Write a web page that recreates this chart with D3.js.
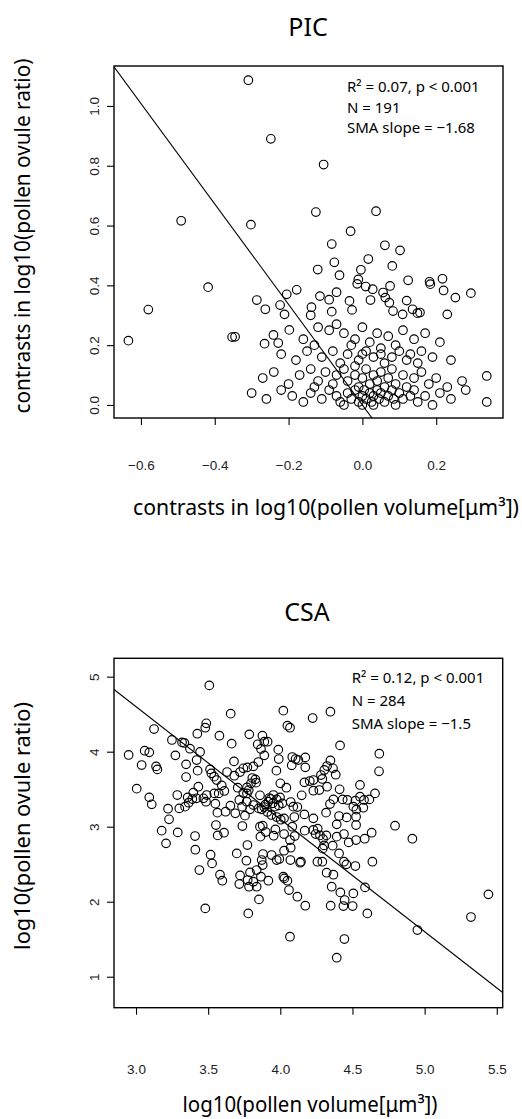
<!DOCTYPE html>
<html>
<head>
<meta charset="utf-8">
<script src="https://cdn.jsdelivr.net/npm/d3@7/dist/d3.min.js"></script>
<style>
  body { margin: 0; background: #fff; }
</style>
</head>
<body>
<svg id="chart"></svg>
<script>
// ---- PIC panel (phylogenetically independent contrasts) ----
const picX = [-0.309,-0.248,-0.105,-0.491,-0.302,-0.126,0.037,-0.032,-0.083,0.061,0.102,0.016,-0.076,-0.121,0.081,-0.004,-0.062,-0.011,-0.014,0.009,0.124,0.182,0.184,0.217,0.075,-0.418,0.028,-0.070,0.220,0.056,0.294,-0.178,-0.205,-0.115,-0.090,0.252,0.062,-0.035,0.022,0.120,-0.286,-0.580,-0.263,-0.223,0.073,-0.083,-0.028,-0.138,0.136,0.083,0.109,0.156,0.149,0.230,-0.211,-0.140,-0.198,-0.634,-0.353,-0.345,-0.241,-0.265,-0.228,
  -0.12,-0.09,-0.07,-0.05,-0.02,0.00,0.02,0.04,0.07,0.09,0.11,0.14,0.17,0.21,-0.16,-0.13,0.05,-0.03,
  -0.22,-0.18,-0.15,-0.11,-0.08,-0.06,-0.04,-0.01,0.01,0.03,0.05,0.06,0.08,0.10,0.12,0.13,0.15,0.16,0.19,0.24,-0.02,0.00,
  -0.27,-0.24,-0.20,-0.17,-0.14,-0.12,-0.10,-0.08,-0.07,-0.05,-0.04,-0.02,-0.01,0.00,0.01,0.02,0.03,0.04,0.05,0.06,0.07,0.08,0.09,0.11,0.12,0.14,0.16,0.18,0.20,0.23,0.27,0.337,-0.13,
  -0.30,-0.26,-0.22,-0.19,-0.16,-0.14,-0.11,-0.09,-0.07,-0.06,-0.04,-0.03,-0.02,-0.01,0.00,0.005,0.01,0.02,0.025,0.03,0.04,0.045,0.05,0.06,0.07,0.08,0.085,0.09,0.10,0.11,0.13,0.14,0.15,0.17,0.19,0.21,0.24,0.28,0.337,-0.05,0.00,0.03];
const picY = [1.086,0.890,0.804,0.616,0.603,0.645,0.648,0.581,0.538,0.534,0.517,0.488,0.477,0.453,0.465,0.452,0.434,0.420,0.405,0.396,0.417,0.412,0.404,0.422,0.398,0.394,0.387,0.377,0.383,0.376,0.374,0.385,0.370,0.364,0.352,0.359,0.359,0.348,0.351,0.349,0.351,0.319,0.320,0.334,0.342,0.312,0.318,0.327,0.320,0.314,0.303,0.309,0.307,0.303,0.303,0.300,0.251,0.215,0.227,0.228,0.234,0.205,0.207,
  0.26,0.25,0.27,0.24,0.22,0.26,0.21,0.24,0.23,0.20,0.25,0.22,0.24,0.21,0.22,0.20,0.19,0.20,
  0.17,0.15,0.18,0.16,0.18,0.14,0.17,0.15,0.18,0.16,0.17,0.14,0.16,0.18,0.15,0.17,0.14,0.18,0.16,0.15,0.13,0.17,
  0.09,0.11,0.07,0.10,0.12,0.08,0.11,0.07,0.10,0.12,0.08,0.10,0.06,0.09,0.12,0.07,0.10,0.08,0.11,0.06,0.09,0.12,0.07,0.10,0.06,0.09,0.11,0.07,0.09,0.06,0.08,0.097,0.06,
  0.04,0.02,0.05,0.03,0.01,0.04,0.02,0.05,0.03,0.01,0.04,0.02,0.05,0.01,0.03,0.05,0.02,0.04,0.01,0.03,0.05,0.02,0.04,0.01,0.03,0.05,0.02,0.00,0.04,0.02,0.03,0.05,0.01,0.03,0.00,0.04,0.02,0.05,0.01,0.00,0.00,0.00];
const picXTicks = [-0.6, -0.4, -0.2, 0.0, 0.2];
const picYTicks = [0.0, 0.2, 0.4, 0.6, 0.8, 1.0];
const picSlope = -1.68, picIntercept = 0;
const picStats = ["R² = 0.07, p < 0.001", "N = 191", "SMA slope = −1.68"];

// ---- CSA panel (cross-species analysis) ----
const csaX = [3.508,3.656,4.021,4.347,4.224,4.049,4.067,3.487,3.480,3.425,3.578,3.663,3.125,3.785,3.876,3.889,3.912,3.843,4.414,3.249,3.319,3.335,3.374,3.444,3.273,2.949,3.060,3.092,3.039,3.139,3.148,3.347,3.420,3.347,3.427,3.005,3.092,3.109,3.222,3.286,3.300,3.229,3.178,3.208,3.289,3.409,3.411,3.439,3.480,3.517,3.527,3.582,3.598,3.566,3.610,3.554,3.573,3.679,3.681,3.631,3.513,3.522,3.541,3.559,3.594,3.612,3.543,3.490,3.467,3.420,3.390,3.358,3.365,3.340,3.432,3.397,3.485,3.550,3.564,3.621,3.654,3.688,3.705,3.744,3.769,3.721,3.744,3.772,3.813,3.848,3.889,3.866,3.986,3.989,3.973,4.000,4.042,4.083,4.106,4.125,4.173,4.173,4.079,4.167,4.204,4.229,4.282,4.291,4.305,4.324,4.347,4.365,4.384,4.270,4.229,4.324,4.411,4.148,4.090,4.118,4.072,4.014,3.989,3.924,3.933,3.947,3.896,3.871,3.859,3.806,3.827,3.832,3.797,3.781,3.769,3.716,3.735,3.755,3.790,3.813,3.767,3.737,3.859,3.878,3.899,3.862,3.954,3.966,4.003,4.026,4.083,4.100,4.169,4.229,4.245,4.259,4.275,4.296,4.303,4.294,4.319,4.391,4.363,4.407,4.441,4.458,4.520,4.638,4.525,4.474,4.441,4.391,4.460,4.407,4.317,4.344,4.368,4.432,4.465,4.520,4.552,4.580,4.617,4.656,4.552,4.506,4.527,4.575,4.525,4.525,4.585,4.633,4.686,4.684,4.795,4.915,4.167,4.229,4.097,4.026,3.975,3.910,3.938,3.889,3.850,4.067,3.975,3.940,3.880,3.871,3.878,3.836,3.866,3.917,3.790,3.774,3.783,3.721,3.716,3.698,3.765,3.772,3.813,3.836,3.852,3.778,4.021,4.049,4.028,4.060,4.118,4.173,4.067,4.143,4.137,4.070,4.026,3.993,4.257,4.291,4.321,4.368,4.356,4.349,4.416,4.446,4.437,4.506,4.501,4.587,4.603,4.444,4.391,4.950,5.321,5.442,4.072,3.952,3.975,3.917,3.998,3.963];
const csaY = [4.884,4.507,4.547,4.533,4.449,4.347,4.320,4.378,4.320,4.240,4.213,4.107,4.302,4.231,4.213,4.133,4.133,4.098,4.084,4.156,4.124,4.116,4.040,3.996,3.951,3.956,4.013,3.991,3.822,3.804,3.764,3.831,3.889,3.662,3.747,3.507,3.391,3.298,3.240,3.422,3.244,3.098,2.947,2.778,2.924,2.876,2.693,2.422,1.911,2.627,2.511,2.360,2.280,2.884,2.920,3.022,3.444,3.871,3.680,3.729,3.764,3.711,3.667,3.622,3.551,3.476,3.444,3.422,3.378,3.378,3.369,3.391,3.320,3.267,3.533,3.453,3.333,3.307,3.187,3.200,3.280,3.178,3.520,3.449,3.524,3.729,3.778,3.791,3.804,3.862,3.951,4.036,4.027,3.902,3.747,3.578,3.520,3.929,3.902,3.889,3.924,3.791,3.818,3.591,3.609,3.622,3.689,3.636,3.756,3.809,3.884,3.778,3.693,3.489,3.480,3.533,3.498,3.418,3.267,3.262,3.329,3.311,3.284,3.382,3.369,3.311,3.293,3.231,3.418,3.649,3.631,3.587,3.578,3.489,3.444,3.356,3.267,3.147,3.231,3.289,3.333,3.009,3.000,3.013,2.929,2.867,2.880,2.964,3.093,2.902,3.000,2.876,2.947,2.956,2.902,2.973,2.884,2.836,2.751,2.707,2.884,2.867,2.747,2.644,2.533,2.498,2.476,2.533,2.822,2.791,2.902,3.031,3.124,3.142,3.187,3.302,3.364,3.364,3.356,3.347,3.400,3.356,3.364,3.444,3.556,3.267,3.227,3.253,3.133,3.022,2.840,2.920,3.973,3.738,3.013,2.840,3.164,3.111,3.129,3.111,3.129,3.196,3.156,3.262,3.244,2.822,2.556,2.622,2.636,2.556,2.489,2.422,2.333,2.280,2.391,2.289,2.200,2.351,2.236,2.644,2.547,2.756,2.267,2.200,2.031,1.844,2.333,2.280,2.311,2.156,2.067,1.947,1.533,2.533,2.520,2.556,2.680,2.569,2.533,2.533,2.387,2.360,2.200,1.947,2.124,2.022,1.942,2.111,1.942,2.191,1.844,1.502,1.253,1.622,1.796,2.098,2.720,3.422,3.364,3.333,3.391,3.267];
const csaXTicks = [3.0, 3.5, 4.0, 4.5, 5.0, 5.5];
const csaYTicks = [1, 2, 3, 4, 5];
const csaSlope = -1.5, csaIntercept = 9.10;
const csaStats = ["R² = 0.12, p < 0.001", "N = 284", "SMA slope = −1.5"];

const width = 522, height = 1119;
const titleFont = "'Noto Sans', 'Open Sans', sans-serif";
const tickFont = "'Liberation Sans', Arial, sans-serif";

const svg = d3.select("#chart")
  .attr("width", width)
  .attr("height", height)
  .attr("viewBox", `0 0 ${width} ${height}`);

function drawPanel(opt) {
  const { left, right, top, bottom } = opt.box;
  const x = d3.scaleLinear().domain(opt.xDomain).range([left, right]);
  const y = d3.scaleLinear().domain(opt.yDomain).range([bottom, top]);
  const g = svg.append("g");

  // title
  g.append("text")
    .attr("x", opt.titlePos[0]).attr("y", opt.titlePos[1])
    .attr("text-anchor", "middle")
    .style("font-family", titleFont).style("font-size", "25px")
    .text(opt.title);

  // clip for the regression line
  const clipId = "clip-" + opt.title;
  svg.append("clipPath").attr("id", clipId)
    .append("rect").attr("x", left).attr("y", top)
    .attr("width", right - left).attr("height", bottom - top);

  // x axis ticks
  const xAxis = g.append("g")
    .attr("transform", `translate(0,${bottom})`)
    .call(d3.axisBottom(x).tickValues(opt.xTicks).tickSize(7).tickSizeOuter(0)
      .tickFormat(d3.format(opt.xFormat)));
  xAxis.select(".domain").remove();
  xAxis.selectAll("line").attr("stroke", "#000").attr("stroke-width", 1.1);
  xAxis.selectAll("text")
    .attr("y", opt.xLabelOffset).attr("dy", null)
    .attr("fill", "#222")
    .style("font-family", tickFont).style("font-size", "13.5px");

  // y axis ticks, labels parallel to the axis
  const yAxis = g.append("g")
    .attr("transform", `translate(${left},0)`)
    .call(d3.axisLeft(y).tickValues(opt.yTicks).tickSize(7).tickSizeOuter(0)
      .tickFormat(d3.format(opt.yFormat)));
  yAxis.select(".domain").remove();
  yAxis.selectAll("line").attr("stroke", "#000").attr("stroke-width", 1.1);
  yAxis.selectAll("text")
    .attr("x", null).attr("dy", null)
    .attr("text-anchor", "middle")
    .attr("transform", `translate(${opt.yLabelOffset},0) rotate(-90)`)
    .attr("fill", "#222")
    .style("font-family", tickFont).style("font-size", "13.5px");

  // frame
  g.append("rect")
    .attr("x", left).attr("y", top)
    .attr("width", right - left).attr("height", bottom - top)
    .attr("fill", "none").attr("stroke", "#000").attr("stroke-width", 1.4);

  // points
  g.append("g").selectAll("circle")
    .data(opt.xs.map((v, i) => [v, opt.ys[i]]))
    .join("circle")
    .attr("cx", d => x(d[0]))
    .attr("cy", d => y(d[1]))
    .attr("r", 4.3)
    .attr("fill", "none")
    .attr("stroke", "#000")
    .attr("stroke-width", 1.15);

  // SMA line
  const [x0, x1] = opt.xDomain;
  g.append("line")
    .attr("clip-path", `url(#${clipId})`)
    .attr("x1", x(x0)).attr("y1", y(opt.intercept + opt.slope * x0))
    .attr("x2", x(x1)).attr("y2", y(opt.intercept + opt.slope * x1))
    .attr("stroke", "#000").attr("stroke-width", 1.1);

  // stats text
  g.append("g").selectAll("text")
    .data(opt.stats)
    .join("text")
    .attr("x", opt.statsPos[0])
    .attr("y", (d, i) => opt.statsPos[1] + i * opt.statsStep)
    .style("font-family", titleFont).style("font-size", "15px")
    .text(d => d);

  // axis titles
  g.append("text")
    .attr("x", opt.xTitlePos[0]).attr("y", opt.xTitlePos[1])
    .attr("text-anchor", "middle")
    .attr("textLength", opt.xTitleLen).attr("lengthAdjust", "spacingAndGlyphs")
    .style("font-family", titleFont).style("font-size", "21px")
    .text(opt.xTitle);

  g.append("text")
    .attr("transform", `translate(${opt.yTitlePos[0]},${opt.yTitlePos[1]}) rotate(-90)`)
    .attr("text-anchor", "middle")
    .attr("textLength", opt.yTitleLen).attr("lengthAdjust", "spacingAndGlyphs")
    .style("font-family", titleFont).style("font-size", "21px")
    .text(opt.yTitle);
}

drawPanel({
  title: "PIC", titlePos: [308, 36],
  box: { left: 114, right: 503, top: 66, bottom: 418 },
  xDomain: [-0.673, 0.381], yDomain: [-0.0436, 1.1336],
  xTicks: picXTicks, yTicks: picYTicks, xFormat: ".1f", yFormat: ".1f",
  xLabelOffset: 52, yLabelOffset: -15,
  xs: picX, ys: picY, slope: picSlope, intercept: picIntercept,
  stats: picStats, statsPos: [347, 92], statsStep: 20.5,
  xTitle: "contrasts in log10(pollen volume[μm³])", xTitlePos: [326, 515], xTitleLen: 386,
  yTitle: "contrasts in log10(pollen ovule ratio)", yTitlePos: [30, 236], yTitleLen: 355
});

drawPanel({
  title: "CSA", titlePos: [307, 621],
  box: { left: 114, right: 502.7, top: 658.3, bottom: 1007.7 },
  xDomain: [2.8475, 5.541], yDomain: [0.587, 5.245],
  xTicks: csaXTicks, yTicks: csaYTicks, xFormat: ".1f", yFormat: "d",
  xLabelOffset: 66, yLabelOffset: -15,
  xs: csaX, ys: csaY, slope: csaSlope, intercept: csaIntercept,
  stats: csaStats, statsPos: [351.7, 683], statsStep: 23,
  xTitle: "log10(pollen volume[μm³])", xTitlePos: [310, 1112], xTitleLen: 255,
  yTitle: "log10(pollen ovule ratio)", yTitlePos: [30, 826], yTitleLen: 248
});
</script>
</body>
</html>
